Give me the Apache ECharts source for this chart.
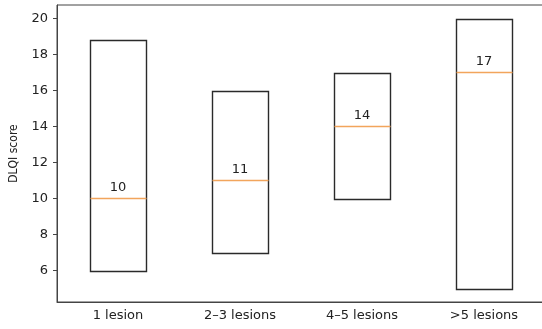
<!DOCTYPE html>
<html>
<head>
<meta charset="utf-8">
<script src="https://cdn.jsdelivr.net/npm/echarts@6/dist/echarts.min.js"></script>
<style>
html,body{margin:0;padding:0;background:#fff;overflow:hidden;}
#chart{width:548px;height:329px;}
</style>
</head>
<body>
<div id="chart"></div>
<script>
const categories = ['1 lesion', '2\u20133 lesions', '4\u20135 lesions', '>5 lesions'];
const lows = [6, 7, 10, 5];
const highs = [18.8, 16, 17, 20];
const medians = [10, 11, 14, 17];
const yTicks = [6, 8, 10, 12, 14, 16, 18, 20];

const chart = echarts.init(document.getElementById('chart'), null, {renderer: 'canvas'});
const FONT = 'DejaVu Sans';
const data = categories.map((c, i) => [i, lows[i], highs[i], medians[i]]);

chart.setOption({
  animation: false,
  backgroundColor: '#fff',
  grid: {left: 57, top: 5, width: 488, height: 297, show: true, borderColor: '#444', borderWidth: 1},
  xAxis: {
    type: 'category',
    data: categories,
    boundaryGap: true,
    axisLine: {lineStyle: {color: '#444', width: 1}},
    axisTick: {alignWithLabel: true, length: 4, lineStyle: {color: '#444'}},
    axisLabel: {color: '#222', fontFamily: FONT, fontSize: 13, margin: 7}
  },
  yAxis: {
    type: 'value',
    min: 4.25,
    max: 20.75,
    splitLine: {show: false},
    axisLine: {show: true, lineStyle: {color: '#444', width: 1}},
    axisTick: {show: true, length: 4, customValues: yTicks, lineStyle: {color: '#444'}},
    axisLabel: {color: '#222', fontFamily: FONT, fontSize: 13, margin: 9, customValues: yTicks},
    name: 'DLQI score',
    nameLocation: 'middle',
    nameRotate: 90,
    nameGap: 37,
    nameTextStyle: {color: '#222', fontFamily: 'DejaVu Sans Condensed', fontSize: 12}
  },
  series: [{
    type: 'custom',
    data: data,
    encode: {x: 0, y: [1, 2, 3]},
    renderItem: function (params, api) {
      const i = api.value(0);
      const pLow = api.coord([i, api.value(1)]);
      const pHigh = api.coord([i, api.value(2)]);
      const pMed = api.coord([i, api.value(3)]);
      const band = api.size([1, 0])[0];
      const w = band * 0.456;
      const x0 = Math.round(pLow[0] - w / 2) + 0.5;
      const x1 = Math.round(pLow[0] + w / 2) + 0.5;
      return {
        type: 'group',
        children: [
          {
            type: 'rect',
            shape: {x: x0, y: Math.round(pHigh[1]) + 0.5, width: x1 - x0, height: Math.round(pLow[1]) - Math.round(pHigh[1])},
            style: {fill: null, stroke: '#2a2a2a', lineWidth: 1.4}
          },
          {
            type: 'line',
            shape: {x1: x0, y1: pMed[1], x2: x1, y2: pMed[1]},
            style: {stroke: '#f2a55c', lineWidth: 1.6}
          },
          {
            type: 'text',
            style: {
              text: String(api.value(3)),
              x: pMed[0],
              y: pMed[1] - 4,
              align: 'center',
              verticalAlign: 'bottom',
              font: '13px "DejaVu Sans"',
              fill: '#222'
            }
          }
        ]
      };
    }
  }]
});
</script>
</body>
</html>
